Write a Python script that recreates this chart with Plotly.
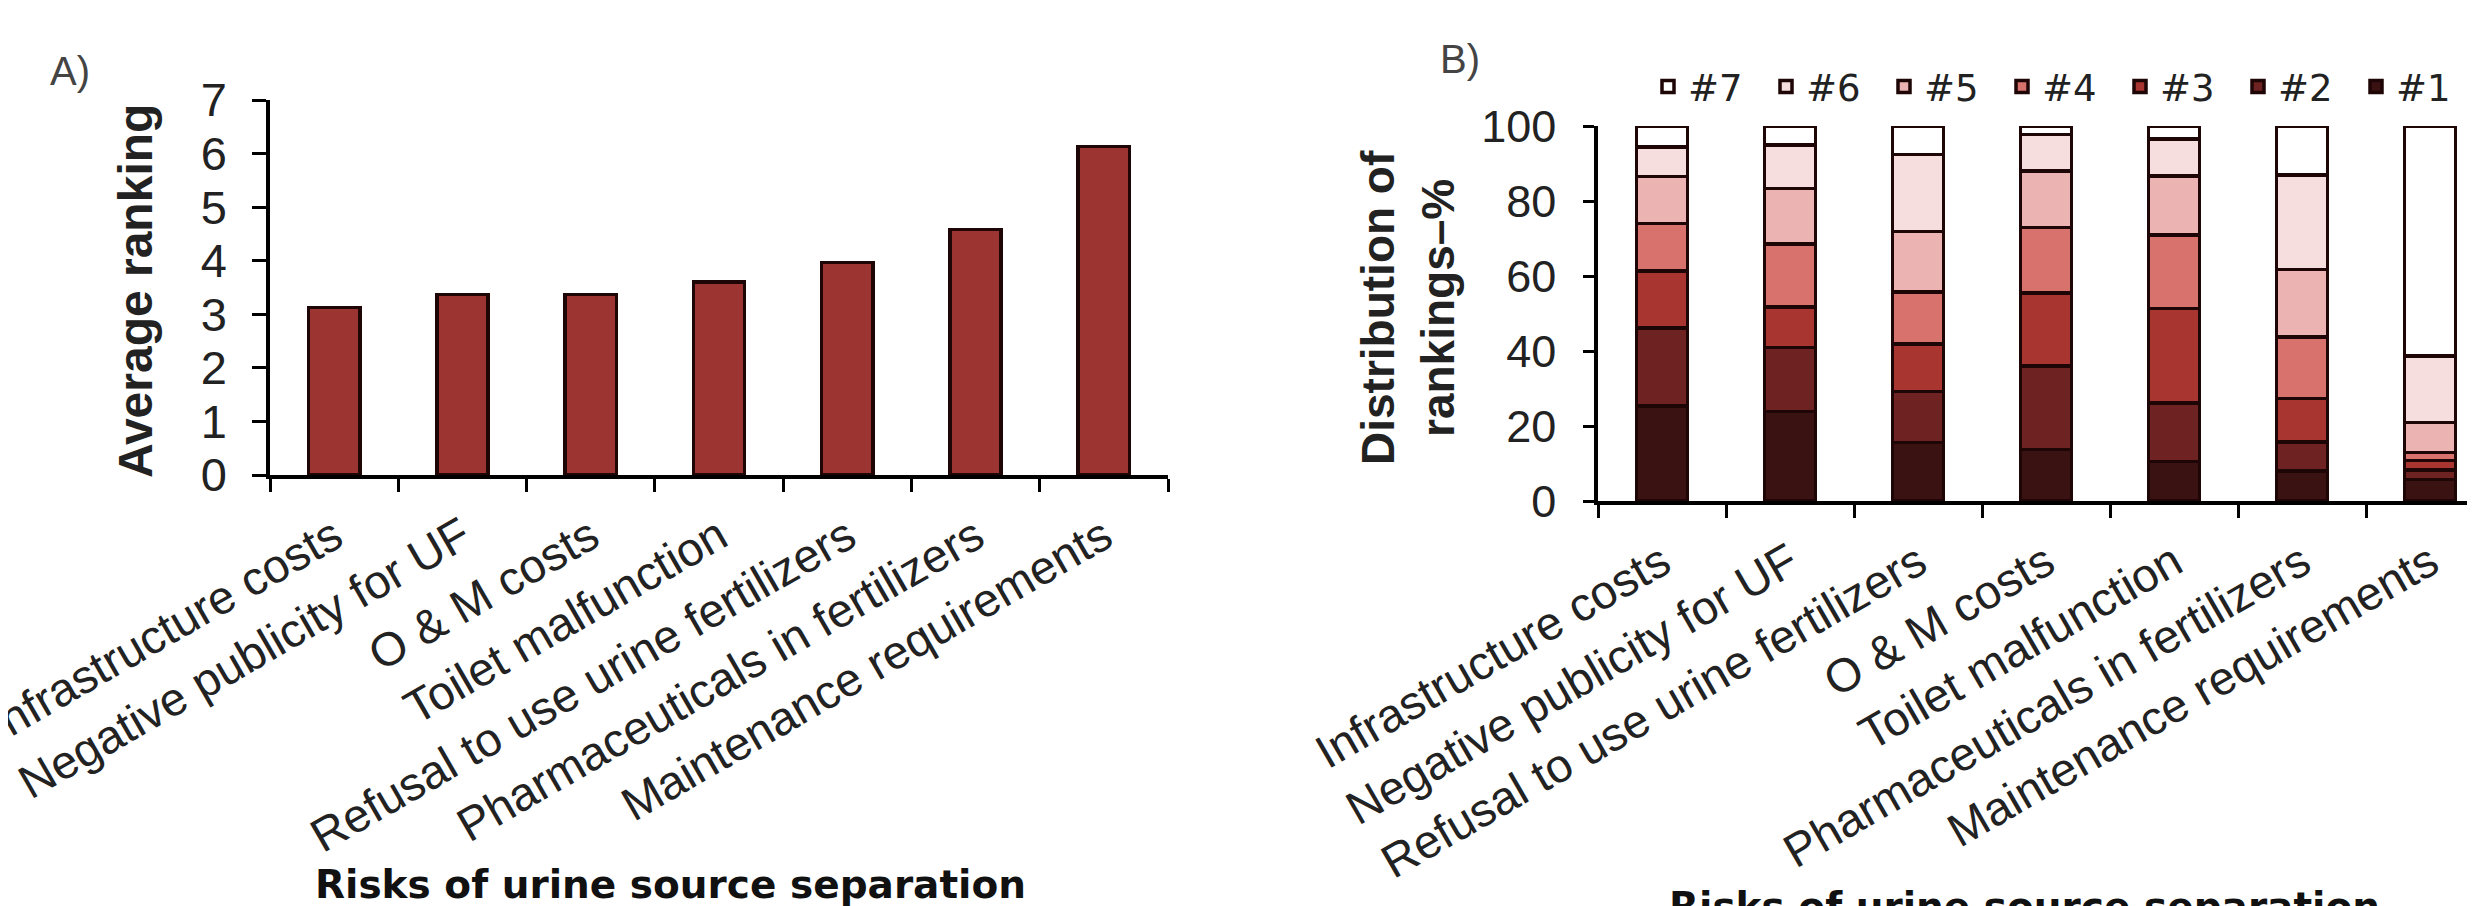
import plotly.graph_objects as go

# ---------------- data ----------------
cats_a = ["Infrastructure costs", "Negative publicity for UF", "O & M costs",
          "Toilet malfunction", "Refusal to use urine fertilizers",
          "Pharmaceuticals in fertilizers", "Maintenance requirements"]
avg_ranking = [3.13, 3.37, 3.37, 3.60, 3.97, 4.58, 6.13]

cats_b = ["Infrastructure costs", "Negative publicity for UF",
          "Refusal to use urine fertilizers", "O & M costs",
          "Toilet malfunction", "Pharmaceuticals in fertilizers",
          "Maintenance requirements"]
rank1 = [25.4, 23.9, 15.6, 13.8, 10.5, 8.0, 5.8]
rank2 = [20.7, 17.1, 13.6, 22.2, 15.7, 7.8, 2.5]
rank3 = [15.2, 10.7, 12.7, 19.5, 25.2, 11.6, 2.5]
rank4 = [12.7, 16.9, 13.8, 17.4, 19.6, 16.3, 2.1]
rank5 = [12.5, 14.7, 16.2, 15.1, 15.7, 18.0, 8.1]
rank6 = [7.9, 11.6, 20.5, 9.7, 9.8, 25.2, 17.7]
rank7 = [5.6, 5.1, 7.6, 2.3, 3.5, 13.1, 61.3]
rank_names = ["#1", "#2", "#3", "#4", "#5", "#6", "#7"]
rank_values = [rank1, rank2, rank3, rank4, rank5, rank6, rank7]
rank_colors = ["#3b1212", "#6e2222", "#a8352f", "#d8726c", "#ebb3b2", "#f6dede", "#ffffff"]

y_ticks_a = [0, 1, 2, 3, 4, 5, 6, 7]
y_ticks_b = [0, 20, 40, 60, 80, 100]

W, H = 2475, 906
FONT = "Liberation Sans, Arial, Helvetica, sans-serif"
WIDE = "DejaVu Sans, Liberation Sans, Arial, sans-serif"
OUTLINE = "#1e0606"

def px_x(p):
    return p / W

def px_y(p):
    return 1 - p / H

fig = go.Figure()

fig.add_trace(go.Bar(
    x=cats_a, y=avg_ranking, xaxis="x", yaxis="y", width=0.4,
    marker=dict(color="#9c3431", line=dict(color=OUTLINE, width=3.5)),
    showlegend=False,
))

for name, vals, col in zip(rank_names, rank_values, rank_colors):
    fig.add_trace(go.Bar(
        x=cats_b, y=vals, name=name, xaxis="x2", yaxis="y2", width=0.4,
        marker=dict(color=col, line=dict(color=OUTLINE, width=3.5)),
    ))

axis_common = dict(
    showline=True, linecolor="black", linewidth=3.5,
    ticks="outside", tickcolor="black", tickwidth=3,
    showgrid=False, zeroline=False, automargin=False,
)

fig.update_layout(
    width=W, height=H,
    margin=dict(l=0, r=0, t=0, b=0),
    paper_bgcolor="white", plot_bgcolor="white",
    barmode="stack",
    font=dict(family=FONT, color="black"),
    xaxis=dict(domain=[px_x(262), px_x(1160)], range=[-0.5, 6.5], type="category",
               tickson="boundaries", ticklen=13, tickangle=-30,
               tickfont=dict(size=47, color="#222"), anchor="y",
               ticklabelstandoff=12, **axis_common),
    yaxis=dict(domain=[px_y(467), px_y(92)], range=[0, 7], tickvals=y_ticks_a,
               ticklen=14, tickfont=dict(size=47, color="#222"), anchor="x",
               ticklabelstandoff=16, **axis_common),
    xaxis2=dict(domain=[px_x(1590), 1.0], range=[-0.5, 6.414], type="category",
                tickson="boundaries", ticklen=13, tickangle=-30,
                tickfont=dict(size=47, color="#222"), anchor="y2",
                ticklabelstandoff=12, **axis_common),
    yaxis2=dict(domain=[px_y(493), px_y(118)], range=[0, 100], tickvals=y_ticks_b,
                ticklen=11, tickfont=dict(size=45, color="#222"), anchor="x2",
                ticklabelstandoff=18, **axis_common),
    legend=dict(orientation="h", traceorder="reversed",
                x=px_x(1640), y=px_y(79), xanchor="left", yanchor="middle",
                font=dict(size=37, color="#222", family=WIDE), entrywidth=73,
                entrywidthmode="pixels", itemwidth=30,
                bgcolor="rgba(0,0,0,0)", borderwidth=0),
)

annotations = [
    dict(text="A)", x=px_x(62), y=px_y(63), font=dict(size=40, color="#444")),
    dict(text="B)", x=px_x(1452), y=px_y(51), font=dict(size=40, color="#444")),
    dict(text="<b>Average ranking</b>", x=px_x(128), y=px_y(283), textangle=-90,
         font=dict(size=48, color="#222")),
    dict(text="<b>Distribution of<br>rankings–%</b>", x=px_x(1400), y=px_y(300),
         textangle=-90, font=dict(size=46, color="#222")),
    dict(text="<b>Risks of urine source separation</b>", x=px_x(662), y=px_y(876),
         font=dict(size=39, color="#111", family=WIDE)),
    dict(text="<b>Risks of urine source separation</b>", x=px_x(2016), y=px_y(898),
         font=dict(size=39, color="#111", family=WIDE)),
]
for a in annotations:
    a.update(xref="paper", yref="paper", showarrow=False,
             xanchor="center", yanchor="middle")
fig.update_layout(annotations=annotations)

fig.write_html("out.html")
